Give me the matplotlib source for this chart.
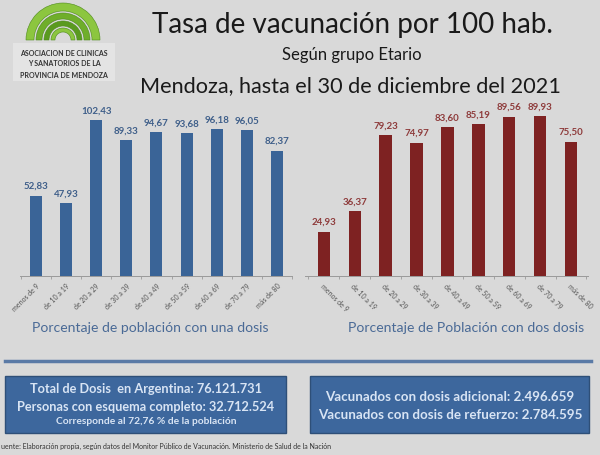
import numpy as np
import matplotlib
matplotlib.use("Agg")
import matplotlib.pyplot as plt
from matplotlib.patches import Wedge, Rectangle

# datos
grupos = ["menos de 9", "de 10 a 19", "de 20 a 29", "de 30 a 39", "de 40 a 49",
          "de 50 a 59", "de 60 a 69", "de 70 a 79", "más de 80"]
una_dosis = [52.83, 47.93, 102.43, 89.33, 94.67, 93.68, 96.18, 96.05, 82.37]
dos_dosis = [24.93, 36.37, 79.23, 74.97, 83.60, 85.19, 89.56, 89.93, 75.50]

titulo = "Tasa de vacunación por 100 hab."
subtitulo = "Según grupo Etario"
titulo2 = "Mendoza, hasta el 30 de diciembre del 2021"
caja_izq = ["Total de Dosis  en Argentina: 76.121.731",
            "Personas con esquema completo: 32.712.524",
            "Corresponde al 72,76 % de la población"]
caja_der = ["Vacunados con dosis adicional: 2.496.659",
            "Vacunados con dosis de refuerzo: 2.784.595"]
fuente = "uente: Elaboración propia, según datos del Monitor Público de Vacunación. Ministerio de Salud de la Nación"

bg = "#d9d9d9"
azul = "#3a6497"
rojo = "#7e2222"
plt.rcParams["font.family"] = ["Lato", "DejaVu Sans"]

W, H = 600, 456
fig = plt.figure(figsize=(6, 4.56), dpi=100, facecolor=bg)

def fx(px):
    return px / W

def fy(py):
    return 1 - py / H

# titulos
fig.text(fx(352), fy(25), titulo, ha="center", va="center", fontsize=20, color="#1a1a1a")
fig.text(fx(352), fy(55), subtitulo, ha="center", va="center", fontsize=12, color="#1a1a1a")
fig.text(fx(350), fy(86), titulo2, ha="center", va="center", fontsize=15.6, color="#1a1a1a")

# logo
lg = fig.add_axes([0, fy(90), fx(130), 90 / H])
lg.set_xlim(0, 130)
lg.set_ylim(90, 0)
lg.axis("off")
greens = ["#8cc63f", "#6fae2a", "#5a9a1f", "#8cc63f"]
for i, (r0, r1) in enumerate([(29, 37), (21, 27), (14, 19), (8, 12)]):
    lg.add_patch(Wedge((63, 41), r1, 180, 360, width=r1 - r0, facecolor=greens[i],
                       edgecolor="#4d8a1a", lw=0.4))
lg.add_patch(Rectangle((13, 44), 102, 38, facecolor="#e4e4e4", edgecolor="none"))
for j, t in enumerate(["ASOCIACION DE CLINICAS", "Y SANATORIOS DE LA", "PROVINCIA DE MENDOZA"]):
    lg.text(64, 53 + j * 11, t, ha="center", va="center", fontsize=5, fontweight="bold", color="#333333")

def grafico(rect, vals, color, lblcolor, ymax, xlim, rot, ha):
    ax = fig.add_axes(rect)
    ax.set_facecolor("none")
    x = np.arange(len(vals))
    ax.bar(x, vals, width=0.4, color=color)
    for xi, v in zip(x, vals):
        ax.annotate(f"{v:.2f}".replace(".", ","), (xi, v), xytext=(0, 4), textcoords="offset points",
                    ha="center", va="bottom", fontsize=7, fontweight="bold", color=lblcolor)
    ax.set_ylim(0, ymax)
    ax.set_xlim(*xlim)
    for s in ["top", "right", "left"]:
        ax.spines[s].set_visible(False)
    ax.spines["bottom"].set_color("#9a9a9a")
    ax.spines["bottom"].set_linewidth(0.7)
    ax.set_yticks([])
    ax.set_xticks(x)
    ax.set_xticklabels(grupos, rotation=rot, ha=ha, va="top", fontsize=5, color="#555555",
                       rotation_mode="anchor")
    ax.tick_params(axis="x", length=0, pad=4)
    ax.set_xticks(np.arange(len(vals) + 1) - 0.5, minor=True)
    ax.tick_params(axis="x", which="minor", length=2, color="#9a9a9a")
    return ax

grafico([fx(20), fy(277), fx(272), 177 / H], una_dosis, azul, "#3f5f8a", 116.2,
        (-0.53, 8.43), 45, "right")
grafico([fx(305), fy(277), fx(283), 177 / H], dos_dosis, rojo, "#8e3b3b", 99.4,
        (-0.61, 8.55), -45, "left")

fig.text(fx(32), fy(328), "Porcentaje de población con una dosis", ha="left", va="center",
         fontsize=10.1, color="#4a6a96")
fig.text(fx(348), fy(328), "Porcentaje de Población con dos dosis", ha="left", va="center",
         fontsize=10.1, color="#4a6a96")

# linea separadora
fig.add_artist(plt.Line2D([fx(5), fx(591)], [fy(362), fy(362)], color="#5a7aa6", lw=2.5))

# cajas
caja = "#3d679d"
fig.add_artist(Rectangle((fx(5), fy(434)), fx(281), 57 / H, facecolor=caja, edgecolor="#2e4f78", lw=1))
fig.add_artist(Rectangle((fx(310), fy(434)), fx(279), 57 / H, facecolor=caja, edgecolor="#2e4f78", lw=1))
txtc = "#d8e4f4"
fig.text(fx(146), fy(389), caja_izq[0], ha="center", va="center", fontsize=9.2, fontweight="bold", color=txtc)
fig.text(fx(146), fy(407), caja_izq[1], ha="center", va="center", fontsize=9.2, fontweight="bold", color=txtc)
fig.text(fx(146), fy(422), caja_izq[2], ha="center", va="center", fontsize=7.4, fontweight="bold", color=txtc)
fig.text(fx(450), fy(397), caja_der[0], ha="center", va="center", fontsize=9.6, fontweight="bold", color=txtc)
fig.text(fx(450), fy(415), caja_der[1], ha="center", va="center", fontsize=9.6, fontweight="bold", color=txtc)

fig.text(fx(1), fy(446), fuente, ha="left", va="center", fontsize=5.05, color="#333333")

fig.savefig("out.png", dpi=100, facecolor=bg)
